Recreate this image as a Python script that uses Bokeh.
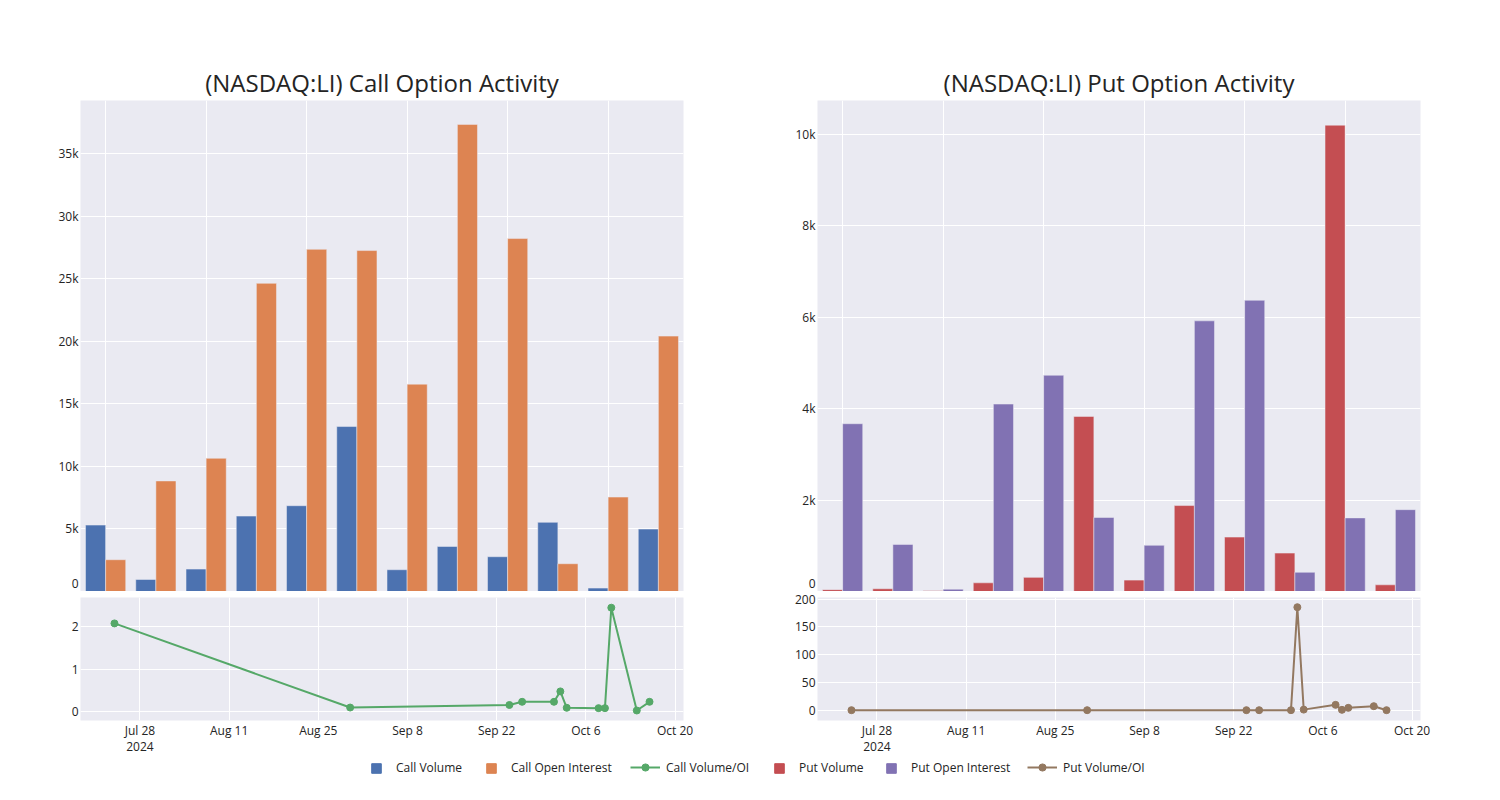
import pandas as pd
from bokeh.plotting import figure
from bokeh.layouts import column, row
from bokeh.models import (Range1d, FixedTicker, DatetimeTickFormatter, NumeralTickFormatter,
                          Legend, LegendItem, ColumnDataSource)
from bokeh.transform import dodge
from bokeh.embed import file_html
from bokeh.resources import INLINE

# ---------------- data ----------------
bar_dates = ["2024-07-28", "2024-08-04", "2024-08-11", "2024-08-18", "2024-08-25", "2024-09-01",
             "2024-09-08", "2024-09-15", "2024-09-22", "2024-09-29", "2024-10-06", "2024-10-13"]
call_volume = [5310, 960, 1790, 6030, 6860, 13190, 1740, 3600, 2780, 5530, 270, 4990]
call_oi = [2540, 8840, 10650, 24640, 27360, 27260, 16580, 37350, 28220, 2220, 7550, 20420]
put_volume = [40, 60, 15, 190, 310, 3830, 250, 1880, 1190, 840, 10200, 146]
put_oi = [3670, 1030, 50, 4100, 4730, 1620, 1010, 5920, 6370, 420, 1610, 1790]

ratio_dates = ["2024-07-24", "2024-08-30", "2024-09-24", "2024-09-26", "2024-10-01", "2024-10-02",
               "2024-10-03", "2024-10-08", "2024-10-09", "2024-10-10", "2024-10-14", "2024-10-16"]
call_ratio = [2.08, 0.10, 0.16, 0.235, 0.235, 0.48, 0.094, 0.086, 0.086, 2.45, 0.03, 0.235]
put_ratio = [0, 0, 0, 0, 0, 185.5, 1, 9.6, 0.6, 4.2, 7.2, 0]

tick_dates = ["2024-07-28", "2024-08-11", "2024-08-25", "2024-09-08", "2024-09-22",
              "2024-10-06", "2024-10-20"]
call_yticks = [0, 5000, 10000, 15000, 20000, 25000, 30000, 35000]
put_yticks = [0, 2000, 4000, 6000, 8000, 10000]
call_ratio_ticks = [0, 1, 2]
put_ratio_ticks = [0, 50, 100, 150, 200]

legend_labels = ["Call Volume", "Call Open Interest", "Call Volume/OI",
                 "Put Volume", "Put Open Interest", "Put Volume/OI"]

# ---------------- style ----------------
C_CALL_VOL = "#4C72B0"
C_CALL_OI = "#DD8452"
C_CALL_R = "#55A868"
C_PUT_VOL = "#C44E52"
C_PUT_OI = "#8172B3"
C_PUT_R = "#937860"
BG = "#EAEAF2"
TXT = "#242424"
FONT = "Open Sans"

DAY = 86400000
bar_x = pd.to_datetime(bar_dates)
ratio_x = pd.to_datetime(ratio_dates)
tick_ms = [pd.Timestamp(d).value / 1e6 for d in tick_dates]

top_xr = (bar_x.min() - pd.Timedelta(hours=84), bar_x.max() + pd.Timedelta(hours=84))
bot_xr = (ratio_x.min() - pd.Timedelta(hours=128), ratio_x.max() + pd.Timedelta(hours=128))

FRAME_W = 603


def style_axes(p):
    for ax in p.yaxis:
        ax.axis_line_color = None
        ax.major_tick_line_color = None
        ax.minor_tick_line_color = None
        ax.major_tick_out = 0
        ax.major_tick_in = 0
        ax.minor_tick_out = 0
        ax.major_label_text_font_size = "12px"
        ax.major_label_text_color = TXT
        ax.major_label_text_font = FONT
        ax.major_label_standoff = 2
    p.xgrid.grid_line_color = "white"
    p.ygrid.grid_line_color = "white"
    p.xgrid.grid_line_width = 1
    p.ygrid.grid_line_width = 1


def bar_fig(title, v1, v2, c1, c2, ymax, yticks, left, right):
    src = ColumnDataSource(dict(date=bar_x, a=v1, b=v2))
    p = figure(width=left + FRAME_W + right, height=591, x_axis_type="datetime",
               x_range=Range1d(*top_xr), y_range=Range1d(0, ymax),
               output_backend="svg", toolbar_location=None,
               min_border_left=left, min_border_right=right, min_border_top=100,
               min_border_bottom=0, background_fill_color=BG, border_fill_color="white",
               outline_line_color=None)
    w = 0.4 * 7 * DAY
    p.vbar(x=dodge("date", -w / 2, range=p.x_range), top="a", width=w, source=src,
           fill_color=c1, line_color=BG, line_width=0.5)
    p.vbar(x=dodge("date", w / 2, range=p.x_range), top="b", width=w, source=src,
           fill_color=c2, line_color=BG, line_width=0.5)
    p.xaxis.visible = False
    p.xgrid.ticker = FixedTicker(ticks=tick_ms)
    p.yaxis.ticker = FixedTicker(ticks=yticks)
    p.yaxis.formatter = NumeralTickFormatter(format="0a")
    p.title.text = title
    p.title.align = "center"
    p.title.text_font_size = "24px"
    p.title.text_font = FONT
    p.title.text_font_style = "normal"
    p.title.text_color = TXT
    p.title.standoff = 3
    style_axes(p)
    return p


def ratio_fig(vals, color, yr, yticks, left, right):
    src = ColumnDataSource(dict(date=ratio_x, v=vals))
    p = figure(width=left + FRAME_W + right, height=167, x_axis_type="datetime",
               x_range=Range1d(*bot_xr), y_range=Range1d(*yr),
               output_backend="svg", toolbar_location=None,
               min_border_left=left, min_border_right=right, min_border_top=6,
               min_border_bottom=38, background_fill_color=BG, border_fill_color="white",
               outline_line_color=None)
    p.line("date", "v", source=src, line_color=color, line_width=2)
    p.scatter("date", "v", source=src, size=7, fill_color=color, line_color=color)
    ax = p.xaxis[0]
    ax.ticker = FixedTicker(ticks=tick_ms)
    fmt = "%b %-d"
    ax.formatter = DatetimeTickFormatter(
        days=fmt, months=fmt, hours=fmt, years=fmt,
        context=DatetimeTickFormatter(days="%Y", months="%Y", hours="%Y", years="%Y"),
        context_which="start")
    ax.axis_line_color = None
    ax.major_tick_line_color = None
    ax.minor_tick_line_color = None
    ax.major_tick_out = 0
    ax.major_tick_in = 0
    ax.minor_tick_out = 0
    ax.major_label_text_font_size = "12px"
    ax.major_label_text_color = TXT
    ax.major_label_text_font = FONT
    ax.major_label_text_line_height = 0.95
    ax.major_label_standoff = 1
    p.yaxis.ticker = FixedTicker(ticks=yticks)
    style_axes(p)
    return p


tl = bar_fig("(NASDAQ:LI) Call Option Activity", call_volume, call_oi, C_CALL_VOL, C_CALL_OI,
             39260, call_yticks, 80, 64)
tr = bar_fig("(NASDAQ:LI) Put Option Activity", put_volume, put_oi, C_PUT_VOL, C_PUT_OI,
             10740, put_yticks, 70, 50)
bl = ratio_fig(call_ratio, C_CALL_R, (-0.205, 2.69), call_ratio_ticks, 80, 64)
br = ratio_fig(put_ratio, C_PUT_R, (-18.6, 203), put_ratio_ticks, 70, 50)

# ---------------- legend ----------------
LG_H = 28
lg = figure(width=1470, height=LG_H, x_range=Range1d(0, 1), y_range=Range1d(0, 1),
            output_backend="svg", toolbar_location=None, x_axis_location=None,
            y_axis_location=None, min_border_left=0, min_border_right=0, min_border_top=0,
            min_border_bottom=0, outline_line_color=None, background_fill_color="white",
            border_fill_color="white")
lg.xgrid.visible = False
lg.ygrid.visible = False

OFF = [-10, -9]  # legend-only renderers, kept outside the visible range


def sq(c):
    return [lg.vbar(x=OFF[:1], top=OFF[:1], width=0.1, fill_color=c, line_color=c)]


def ln(c):
    a = lg.line(x=OFF, y=OFF, line_color=c, line_width=2)
    b = lg.scatter(x=OFF[:1], y=OFF[:1], size=7, fill_color=c, line_color=c)
    return [a, b]


legend_specs = [
    (legend_labels[0], sq(C_CALL_VOL), 370, "sq"),
    (legend_labels[1], sq(C_CALL_OI), 485, "sq"),
    (legend_labels[2], ln(C_CALL_R), 630, "ln"),
    (legend_labels[3], sq(C_PUT_VOL), 773, "sq"),
    (legend_labels[4], sq(C_PUT_OI), 885, "sq"),
    (legend_labels[5], ln(C_PUT_R), 1027, "ln"),
]
for label, rends, x0, kind in legend_specs:
    if kind == "sq":
        gw, gh, so, y0 = 12, 12, 14, 10
    else:
        gw, gh, so, y0 = 30, 18, 6, 10
    leg = Legend(items=[LegendItem(label=label, renderers=rends)], orientation="horizontal",
                 location=(x0, y0), glyph_width=gw, glyph_height=gh,
                 label_standoff=so, spacing=0, padding=0, margin=0,
                 border_line_color=None, background_fill_alpha=0,
                 label_text_font_size="12px", label_text_font=FONT, label_text_color=TXT,
                 label_height=gh)
    lg.add_layout(leg, "center")

layout = column(row(tl, tr), row(bl, br), lg)

open("out.html", "w").write(file_html(layout, INLINE))
